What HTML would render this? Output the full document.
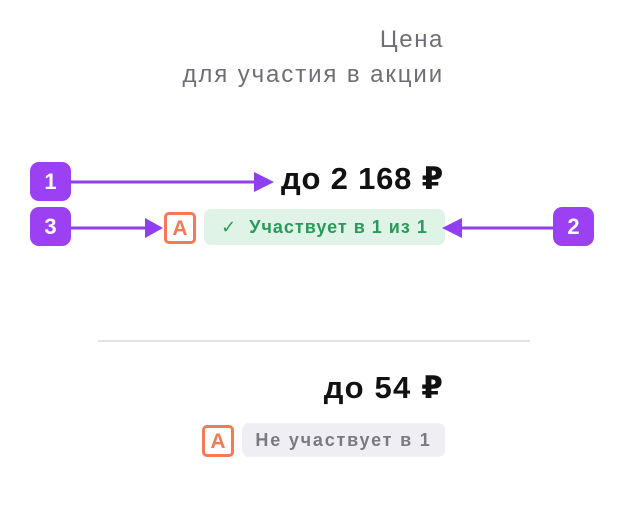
<!DOCTYPE html>
<html><head><meta charset="utf-8"><style>
body{margin:0;width:626px;height:506px;background:#fff;position:relative;overflow:hidden;font-family:"Liberation Sans","DejaVu Sans",sans-serif}
.a{position:absolute}
.t{right:182px;text-align:right;white-space:nowrap}
.badge{position:absolute;width:41px;height:39px;background:#9b40f3;border-radius:9px;color:#fff;font-weight:bold;font-size:22px;line-height:39px;text-align:center}
.ic{position:absolute;width:26px;height:26px;border:3px solid #f47a55;border-radius:5px;color:#f47a55;font-weight:bold;font-size:21px;line-height:27px;text-align:center}
.pill{position:absolute;border-radius:7px;font-size:18px;white-space:nowrap;text-align:center;font-weight:bold;letter-spacing:1.4px}
</style></head><body>
<div class="a t" style="top:26px;font-size:24px;letter-spacing:1.6px;color:#6e6e76">Цена</div>
<div class="a t" style="top:61px;font-size:24px;letter-spacing:1.9px;color:#6e6e76">для участия в акции</div>
<div class="a t" style="top:161px;font-size:31px;letter-spacing:0.8px;font-weight:bold;color:#111">до 2 168 ₽</div>
<div class="pill" style="left:204px;top:209px;width:241px;height:36px;line-height:36px;background:#dff3e6;color:#2a9a5a;letter-spacing:1px">✓&nbsp; Участвует в 1 из 1</div>
<div class="ic" style="left:164px;top:212px">A</div>
<div class="badge" style="left:30px;top:162px">1</div>
<div class="badge" style="left:30px;top:207px">3</div>
<div class="badge" style="left:553px;top:207px">2</div>
<svg class="a" style="left:0;top:0" width="626" height="506">
<g fill="#8f3ff0" stroke="#8f3ff0" stroke-width="3">
<line x1="70" y1="182" x2="258" y2="182"/><polygon stroke="none" points="274,182 254,172 254,192"/>
<line x1="70" y1="228" x2="150" y2="228"/><polygon stroke="none" points="163,228 145,218 145,238"/>
<line x1="555" y1="228" x2="458" y2="228"/><polygon stroke="none" points="442,228 462,218 462,238"/>
</g>
<line x1="98" y1="341" x2="530" y2="341" stroke="#e3e3e3" stroke-width="2"/>
</svg>
<div class="a t" style="top:370px;font-size:31px;letter-spacing:1.2px;font-weight:bold;color:#111">до 54 ₽</div>
<div class="pill" style="left:242px;top:423px;width:203px;height:34px;line-height:34px;background:#efeff3;color:#7a7a82;letter-spacing:1.8px">Не участвует в 1</div>
<div class="ic" style="left:202px;top:425px">A</div>
</body></html>
